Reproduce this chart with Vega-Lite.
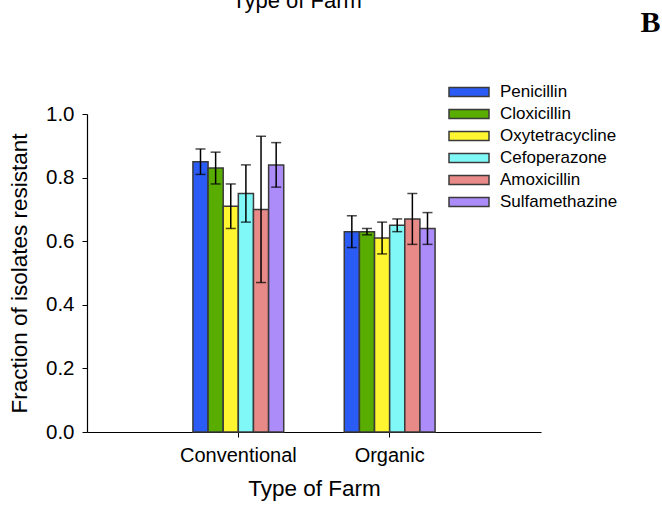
{
  "$schema": "https://vega.github.io/schema/vega-lite/v6.json",
  "autosize": {"type": "none"},
  "width": 454,
  "height": 318,
  "padding": {"left": 87, "top": 114, "right": 121, "bottom": 75},
  "background": "white",
  "title": {
    "text": "Type of Farm",
    "font": "Liberation Sans",
    "fontSize": 22,
    "fontWeight": "normal",
    "color": "black",
    "anchor": "middle",
    "dx": -17,
    "dy": 28,
    "baseline": "bottom",
    "offset": 0
  },
  "config": {
    "view": {"stroke": null},
    "font": "Liberation Sans",
    "axis": {"grid": false, "domainColor": "black", "tickColor": "black", "labelColor": "black", "titleColor": "black", "labelFont": "Liberation Sans", "titleFont": "Liberation Sans", "titleFontWeight": "normal"}
  },
  "data": {
    "values": [
      {"farm": "Conventional", "antibiotic": "Penicillin", "value": 0.85, "lo": 0.81, "hi": 0.89},
      {"farm": "Conventional", "antibiotic": "Cloxicillin", "value": 0.83, "lo": 0.78, "hi": 0.88},
      {"farm": "Conventional", "antibiotic": "Oxytetracycline", "value": 0.71, "lo": 0.64, "hi": 0.78},
      {"farm": "Conventional", "antibiotic": "Cefoperazone", "value": 0.75, "lo": 0.66, "hi": 0.84},
      {"farm": "Conventional", "antibiotic": "Amoxicillin", "value": 0.70, "lo": 0.47, "hi": 0.93},
      {"farm": "Conventional", "antibiotic": "Sulfamethazine", "value": 0.84, "lo": 0.77, "hi": 0.91},
      {"farm": "Organic", "antibiotic": "Penicillin", "value": 0.63, "lo": 0.58, "hi": 0.68},
      {"farm": "Organic", "antibiotic": "Cloxicillin", "value": 0.63, "lo": 0.62, "hi": 0.64},
      {"farm": "Organic", "antibiotic": "Oxytetracycline", "value": 0.61, "lo": 0.56, "hi": 0.66},
      {"farm": "Organic", "antibiotic": "Cefoperazone", "value": 0.65, "lo": 0.63, "hi": 0.67},
      {"farm": "Organic", "antibiotic": "Amoxicillin", "value": 0.67, "lo": 0.59, "hi": 0.75},
      {"farm": "Organic", "antibiotic": "Sulfamethazine", "value": 0.64, "lo": 0.59, "hi": 0.69}
    ]
  },
  "resolve": {"axis": {"x": "independent"}},
  "layer": [
    {
      "mark": {"type": "bar", "stroke": "#3a3a3a", "strokeWidth": 1.5},
      "encoding": {
        "x": {
          "field": "farm", "type": "nominal",
          "scale": {"paddingInner": 0.4, "paddingOuter": 0.7},
          "axis": {"orient": "bottom", "title": "Type of Farm", "labelAngle": 0, "labelFontSize": 20, "titleFontSize": 22.5, "tickSize": 5, "labelPadding": 8, "titlePadding": 12, "domainWidth": 1.2}
        },
        "xOffset": {
          "field": "antibiotic", "type": "nominal",
          "sort": ["Penicillin", "Cloxicillin", "Oxytetracycline", "Cefoperazone", "Amoxicillin", "Sulfamethazine"],
          "scale": {"paddingInner": 0, "paddingOuter": 0}
        },
        "y": {
          "field": "value", "type": "quantitative",
          "scale": {"domain": [0, 1], "nice": false},
          "axis": {"title": "Fraction of isolates resistant", "values": [0, 0.2, 0.4, 0.6, 0.8, 1.0], "format": ".1f", "labelFontSize": 20.5, "titleFontSize": 22.5, "tickSize": 5, "labelPadding": 8, "titlePadding": 14, "domainWidth": 1.2}
        },
        "color": {
          "field": "antibiotic", "type": "nominal",
          "sort": ["Penicillin", "Cloxicillin", "Oxytetracycline", "Cefoperazone", "Amoxicillin", "Sulfamethazine"],
          "scale": {"domain": ["Penicillin", "Cloxicillin", "Oxytetracycline", "Cefoperazone", "Amoxicillin", "Sulfamethazine"], "range": ["#2a5cf5", "#58ad00", "#fff530", "#80f8f8", "#e88a87", "#ac8cf8"]},
          "legend": {
            "title": null,
            "orient": "none",
            "legendX": 371,
            "legendY": -33,
            "symbolType": "M-2,-0.45H2V0.45H-2Z",
            "symbolSize": 400,
            "symbolStrokeColor": "#3a3a3a",
            "symbolStrokeWidth": 1.5,
            "labelFontSize": 17,
            "labelFont": "Liberation Sans",
            "labelColor": "black",
            "labelOffset": 20,
            "rowPadding": 3
          }
        }
      }
    },
    {
      "mark": {"type": "rule", "color": "black", "strokeWidth": 1.5},
      "encoding": {
        "x": {
          "field": "farm", "type": "nominal",
          "axis": {"orient": "top", "domain": false, "ticks": false, "labels": false, "title": "B", "titleFont": "Liberation Serif", "titleFontWeight": "bold", "titleFontSize": 30, "titleX": 573, "titleY": -83, "titleAlign": "right", "titleBaseline": "alphabetic", "titleAngle": 0}
        },
        "xOffset": {"field": "antibiotic", "type": "nominal", "sort": ["Penicillin", "Cloxicillin", "Oxytetracycline", "Cefoperazone", "Amoxicillin", "Sulfamethazine"]},
        "y": {"field": "lo", "type": "quantitative"},
        "y2": {"field": "hi"}
      }
    },
    {
      "mark": {"type": "tick", "color": "black", "thickness": 1.5, "size": 10, "orient": "horizontal"},
      "encoding": {
        "x": {"field": "farm", "type": "nominal", "axis": null},
        "xOffset": {"field": "antibiotic", "type": "nominal", "sort": ["Penicillin", "Cloxicillin", "Oxytetracycline", "Cefoperazone", "Amoxicillin", "Sulfamethazine"]},
        "y": {"field": "lo", "type": "quantitative"}
      }
    },
    {
      "mark": {"type": "tick", "color": "black", "thickness": 1.5, "size": 10, "orient": "horizontal"},
      "encoding": {
        "x": {"field": "farm", "type": "nominal", "axis": null},
        "xOffset": {"field": "antibiotic", "type": "nominal", "sort": ["Penicillin", "Cloxicillin", "Oxytetracycline", "Cefoperazone", "Amoxicillin", "Sulfamethazine"]},
        "y": {"field": "hi", "type": "quantitative"}
      }
    }
  ]
}
